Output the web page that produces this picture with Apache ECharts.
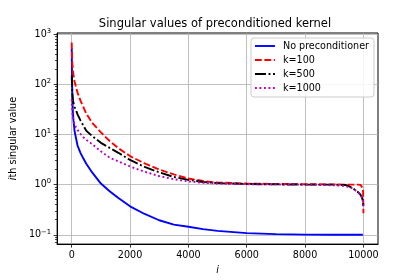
<!DOCTYPE html>
<html><head><meta charset="utf-8">
<script src="https://cdn.jsdelivr.net/npm/echarts@6/dist/echarts.min.js"></script>
<style>html,body{margin:0;padding:0;background:#fff}#c{width:420px;height:280px}</style>
</head><body><div id="c"></div>
<script>
const indices = [0, 5, 10, 20, 40, 60, 100, 150, 200, 300, 400, 500, 700, 1000, 1300, 1600, 2000, 2500, 3000, 3500, 4000, 4500, 5000, 6000, 7000, 8000, 9000, 9400, 9600, 9800, 9900, 9950, 9980, 9990, 10000];
const noPrecond = [515, 300, 160, 60, 28, 19, 11.5, 8.3, 6.0, 4.3, 3.3, 2.6, 1.75, 1.05, 0.74, 0.54, 0.37, 0.26, 0.195, 0.16, 0.145, 0.13, 0.12, 0.108, 0.103, 0.101, 0.1, 0.1, 0.1, 0.1, 0.1, 0.1, 0.1, 0.1, 0.1];
const k100 = [680, 500, 380, 270, 190, 155, 112, 85, 68, 47, 35, 26, 17, 11, 7.4, 5.3, 3.7, 2.65, 2.0, 1.6, 1.32, 1.18, 1.1, 1.05, 1.03, 1.02, 1.01, 1.0, 1.0, 1.0, 0.99, 0.96, 0.85, 0.7, 0.27];
const k500 = [150, 120, 95, 70, 50, 42, 35, 30, 25, 19, 15, 11.8, 9.3, 6.8, 5.4, 4.3, 3.1, 2.25, 1.75, 1.42, 1.24, 1.13, 1.07, 1.03, 1.01, 1.0, 1.0, 0.98, 0.88, 0.72, 0.63, 0.55, 0.48, 0.44, 0.37];
const k1000 = [50, 42, 36, 28, 22, 19, 16, 13.8, 12.3, 10.3, 8.8, 7.8, 6.4, 4.6, 3.45, 2.9, 2.3, 1.8, 1.48, 1.28, 1.16, 1.09, 1.05, 1.02, 1.01, 1.0, 0.97, 0.93, 0.85, 0.72, 0.63, 0.55, 0.48, 0.44, 0.37];
const seriesNames = ['No preconditioner', 'k=100', 'k=500', 'k=1000'];
const xTicks = [0, 2000, 4000, 6000, 8000, 10000];
const yTickExponents = [-1, 0, 1, 2, 3];

const FONT = 'DejaVu Sans';
const yMin = -1.185, yMax = 3.02;
const minorTicks = [];
for (let n = -2; n <= 3; n++) for (let k = 2; k <= 9; k++) {
  const v = Math.log10(k * Math.pow(10, n));
  if (v > yMin && v < yMax) minorTicks.push(v);
}
function toPairs(vals) { return indices.map((x, i) => [x, Math.log10(vals[i])]); }
const styles = [
  { color: '#0000ff', type: 'solid' },
  { color: '#ff0000', type: [6.8, 2.6] },
  { color: '#000000', type: [11, 2.6, 1.9, 2.6] },
  { color: '#bf00bf', type: [1.9, 2.6] }
];
const allVals = [noPrecond, k100, k500, k1000];
const chart = echarts.init(document.getElementById('c'), null, { renderer: 'canvas' });
chart.setOption({
  animation: false,
  backgroundColor: '#ffffff',
  textStyle: { fontFamily: FONT },
  title: {
    text: 'Singular values of preconditioned kernel',
    left: 215, top: 18, textAlign: 'center', padding: 0,
    textStyle: { fontFamily: FONT, fontSize: 11.5, fontWeight: 'normal', color: '#000' }
  },
  grid: { left: 52, right: 42, top: 33, bottom: 35, show: true, borderColor: '#000', borderWidth: 1, backgroundColor: 'transparent' },
  legend: {
    orient: 'vertical', left: 251, top: 38,
    padding: [3, 5, 4, 3], itemGap: 4, itemWidth: 20, itemHeight: 10.3,
    backgroundColor: 'rgba(255,255,255,0.85)', borderColor: '#cccccc', borderWidth: 1, borderRadius: 3,
    itemStyle: { opacity: 0, borderWidth: 0 },
    lineStyle: { width: 1.9 },
    textStyle: { fontFamily: FONT, fontSize: 9.6, color: '#000', padding: [0, 0, 0, 3] },
    data: seriesNames
  },
  xAxis: {
    type: 'value', min: -500, max: 10500,
    name: '{it|i}', nameLocation: 'middle', nameGap: 16,
    nameTextStyle: { fontFamily: FONT, fontSize: 9.6, color: '#000', rich: { it: { fontStyle: 'italic', fontFamily: FONT, fontSize: 9.6 } } },
    axisLine: { show: true, onZero: false, lineStyle: { color: '#000', width: 1 } },
    axisTick: { show: true, length: 3.5, lineStyle: { color: '#000', width: 0.8 }, customValues: xTicks },
    axisLabel: { customValues: xTicks, margin: 6, fontFamily: FONT, fontSize: 9.6, color: '#000', formatter: v => String(v) },
    splitLine: { show: true, lineStyle: { color: '#b0b0b0', width: 0.8 } }
  },
  yAxis: [{
    type: 'value', min: yMin, max: yMax,
    name: '{it|i}th singular value', nameLocation: 'middle', nameGap: 35, nameRotate: 90,
    nameTextStyle: { fontFamily: FONT, fontSize: 9.6, color: '#000', rich: { it: { fontStyle: 'italic', fontFamily: FONT, fontSize: 9.6 } } },
    axisLine: { show: true, onZero: false, lineStyle: { color: '#000', width: 1 } },
    axisTick: { show: true, length: 3.5, lineStyle: { color: '#000', width: 0.8 }, customValues: yTickExponents },
    axisLabel: {
      customValues: yTickExponents, margin: 6, color: '#000',
      formatter: v => '{b|10}{s|' + (v < 0 ? '\u2212' + (-v) : v) + '}',
      rich: { b: { fontFamily: FONT, fontSize: 9.6, color: '#000' }, s: { fontFamily: FONT, fontSize: 6.8, color: '#000', padding: [0, 0, 6, 0] } }
    },
    splitLine: { show: true, lineStyle: { color: '#b0b0b0', width: 0.8 } }
  }, {
    type: 'value', min: yMin, max: yMax, position: 'left', offset: 0,
    axisLine: { show: false, onZero: false },
    axisTick: { show: true, length: 2.2, lineStyle: { color: '#000', width: 0.7 }, customValues: minorTicks },
    axisLabel: { show: false },
    splitLine: { show: false }
  }],
  series: seriesNames.map((name, i) => ({
    name, type: 'line', yAxisIndex: 0, data: toPairs(allVals[i]),
    showSymbol: false, symbol: 'none', smooth: false, clip: true,
    lineStyle: { color: styles[i].color, width: 1.9, type: styles[i].type },
    itemStyle: { color: styles[i].color },
    z: 2 + i
  }))
});
</script></body></html>
